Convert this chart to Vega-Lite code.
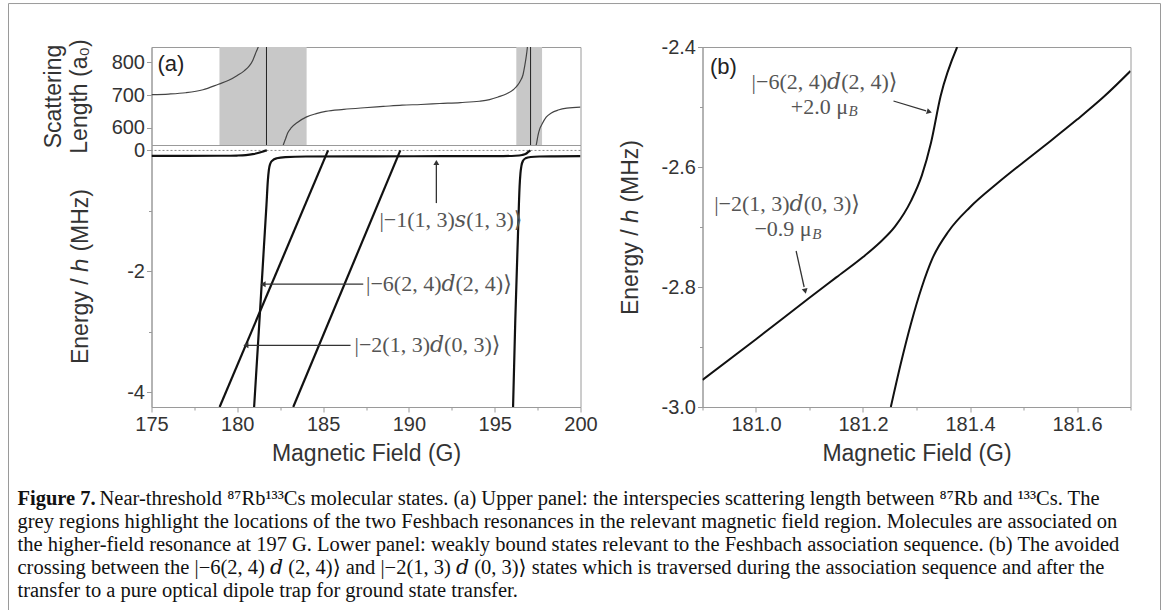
{
  "$schema": "https://vega.github.io/schema/vega-lite/v6.json",
  "background": "white",
  "padding": {"left": 7.5, "top": 3, "right": 5, "bottom": 0},
  "config": {
    "view": {"stroke": "#9a9a9a", "strokeWidth": 1},
    "font": "Liberation Sans",
    "axis": {
      "grid": false,
      "domainColor": "#9a9a9a",
      "tickColor": "#9a9a9a",
      "labelFont": "Liberation Sans",
      "labelFontSize": 20,
      "labelColor": "#333333",
      "titleFont": "Liberation Sans",
      "titleFontSize": 23,
      "titleFontWeight": "normal",
      "titleColor": "#333333",
      "labelFlush": false,
      "labelOverlap": false,
      "labelPadding": 2
    }
  },
  "datasets": {
    "scat": [
      {"seg": "s1", "B": 175, "a": 701}, {"seg": "s1", "B": 176, "a": 703}, {"seg": "s1", "B": 177, "a": 707},
      {"seg": "s1", "B": 178, "a": 716}, {"seg": "s1", "B": 178.9, "a": 733}, {"seg": "s1", "B": 179.5, "a": 745},
      {"seg": "s1", "B": 180.0, "a": 760}, {"seg": "s1", "B": 180.4, "a": 774}, {"seg": "s1", "B": 180.7, "a": 789},
      {"seg": "s1", "B": 180.9, "a": 806}, {"seg": "s1", "B": 181.1, "a": 832}, {"seg": "s1", "B": 181.25, "a": 852},
      {"seg": "s1", "B": 181.35, "a": 875},
      {"seg": "s2", "B": 182.62, "a": 538}, {"seg": "s2", "B": 182.7, "a": 550}, {"seg": "s2", "B": 182.82, "a": 567},
      {"seg": "s2", "B": 182.95, "a": 585}, {"seg": "s2", "B": 183.15, "a": 600}, {"seg": "s2", "B": 183.5, "a": 616},
      {"seg": "s2", "B": 184.04, "a": 633}, {"seg": "s2", "B": 184.6, "a": 643}, {"seg": "s2", "B": 185.15, "a": 650},
      {"seg": "s2", "B": 186.2, "a": 656}, {"seg": "s2", "B": 187.4, "a": 661}, {"seg": "s2", "B": 188.5, "a": 665},
      {"seg": "s2", "B": 189.6, "a": 669}, {"seg": "s2", "B": 190.7, "a": 671}, {"seg": "s2", "B": 191.8, "a": 674},
      {"seg": "s2", "B": 193.0, "a": 677}, {"seg": "s2", "B": 194.1, "a": 681}, {"seg": "s2", "B": 194.7, "a": 686},
      {"seg": "s2", "B": 195.2, "a": 694}, {"seg": "s2", "B": 195.7, "a": 704}, {"seg": "s2", "B": 196.1, "a": 717},
      {"seg": "s2", "B": 196.35, "a": 731}, {"seg": "s2", "B": 196.5, "a": 744}, {"seg": "s2", "B": 196.65, "a": 762},
      {"seg": "s2", "B": 196.75, "a": 789}, {"seg": "s2", "B": 196.83, "a": 815}, {"seg": "s2", "B": 196.9, "a": 844},
      {"seg": "s2", "B": 196.96, "a": 880},
      {"seg": "s3", "B": 197.35, "a": 535}, {"seg": "s3", "B": 197.42, "a": 547}, {"seg": "s3", "B": 197.53, "a": 578},
      {"seg": "s3", "B": 197.63, "a": 597}, {"seg": "s3", "B": 197.76, "a": 611}, {"seg": "s3", "B": 198.0, "a": 632},
      {"seg": "s3", "B": 198.3, "a": 645}, {"seg": "s3", "B": 198.7, "a": 654}, {"seg": "s3", "B": 199.2, "a": 660},
      {"seg": "s3", "B": 200, "a": 663}
    ],
    "shade": [{"x0": 178.96, "x1": 184.04}, {"x0": 196.26, "x1": 197.76}],
    "poles": [{"B": 181.7}, {"B": 197.09}],
    "states": [
      {"s": "L1", "B": 175, "E": -0.09}, {"s": "L1", "B": 177, "E": -0.09}, {"s": "L1", "B": 179, "E": -0.088},
      {"s": "L1", "B": 180, "E": -0.084}, {"s": "L1", "B": 180.5, "E": -0.077}, {"s": "L1", "B": 180.9, "E": -0.062},
      {"s": "L1", "B": 181.2, "E": -0.043}, {"s": "L1", "B": 181.45, "E": -0.022}, {"s": "L1", "B": 181.6, "E": -0.008},
      {"s": "L1", "B": 181.72, "E": 0},
      {"s": "S1", "B": 180.98, "E": -4.24}, {"s": "S1", "B": 181.25, "E": -3.0}, {"s": "S1", "B": 181.38, "E": -2.4},
      {"s": "S1", "B": 181.55, "E": -1.6}, {"s": "S1", "B": 181.7, "E": -0.9}, {"s": "S1", "B": 181.78, "E": -0.5},
      {"s": "S1", "B": 181.84, "E": -0.32}, {"s": "S1", "B": 181.92, "E": -0.22}, {"s": "S1", "B": 182.05, "E": -0.165},
      {"s": "S1", "B": 182.3, "E": -0.13}, {"s": "S1", "B": 182.8, "E": -0.11}, {"s": "S1", "B": 184, "E": -0.1},
      {"s": "S1", "B": 188, "E": -0.097}, {"s": "S1", "B": 192, "E": -0.095}, {"s": "S1", "B": 195.5, "E": -0.093},
      {"s": "S1", "B": 196.2, "E": -0.088}, {"s": "S1", "B": 196.6, "E": -0.075}, {"s": "S1", "B": 196.85, "E": -0.05},
      {"s": "S1", "B": 196.98, "E": -0.02}, {"s": "S1", "B": 197.08, "E": 0},
      {"s": "S2", "B": 196.07, "E": -4.24}, {"s": "S2", "B": 196.2, "E": -2.8}, {"s": "S2", "B": 196.35, "E": -1.45},
      {"s": "S2", "B": 196.45, "E": -0.6}, {"s": "S2", "B": 196.5, "E": -0.38}, {"s": "S2", "B": 196.56, "E": -0.25},
      {"s": "S2", "B": 196.65, "E": -0.17}, {"s": "S2", "B": 196.8, "E": -0.13}, {"s": "S2", "B": 197.1, "E": -0.108},
      {"s": "S2", "B": 197.6, "E": -0.1}, {"s": "S2", "B": 198.5, "E": -0.097}, {"s": "S2", "B": 200, "E": -0.095},
      {"s": "D1", "B": 178.97, "E": -4.24}, {"s": "D1", "B": 185.29, "E": 0},
      {"s": "D2", "B": 183.26, "E": -4.24}, {"s": "D2", "B": 189.5, "E": 0}
    ],
    "arrowsA": [
      {"x1": 191.6, "y1": -0.87, "x2": 191.6, "y2": -0.24},
      {"x1": 187.34, "y1": -2.21, "x2": 181.62, "y2": -2.21},
      {"x1": 186.6, "y1": -3.22, "x2": 180.62, "y2": -3.22}
    ],
    "headsA": [
      {"x": 191.6, "y": -0.2, "shape": "triangle-up"},
      {"x": 181.5, "y": -2.21, "shape": "triangle-left"},
      {"x": 180.5, "y": -3.22, "shape": "triangle-left"}
    ],
    "labsA": [
      {"x": 188.28, "y": -1.15, "t": "|−1(1, 3)𝑠(1, 3)⟩"},
      {"x": 187.5, "y": -2.21, "t": "|−6(2, 4)𝑑(2, 4)⟩"},
      {"x": 186.83, "y": -3.22, "t": "|−2(1, 3)𝑑(0, 3)⟩"}
    ],
    "bcurves": [
      {"s": "b1", "B": 180.9, "E": -2.955}, {"s": "b1", "B": 181.0, "E": -2.887}, {"s": "b1", "B": 181.1, "E": -2.818},
      {"s": "b1", "B": 181.15, "E": -2.784}, {"s": "b1", "B": 181.2, "E": -2.75}, {"s": "b1", "B": 181.23, "E": -2.727},
      {"s": "b1", "B": 181.26, "E": -2.699}, {"s": "b1", "B": 181.29, "E": -2.656}, {"s": "b1", "B": 181.31, "E": -2.614},
      {"s": "b1", "B": 181.327, "E": -2.56}, {"s": "b1", "B": 181.345, "E": -2.482}, {"s": "b1", "B": 181.376, "E": -2.4},
      {"s": "b2", "B": 181.252, "E": -3.0}, {"s": "b2", "B": 181.27, "E": -2.93}, {"s": "b2", "B": 181.29, "E": -2.86},
      {"s": "b2", "B": 181.31, "E": -2.8}, {"s": "b2", "B": 181.33, "E": -2.752}, {"s": "b2", "B": 181.36, "E": -2.707},
      {"s": "b2", "B": 181.4, "E": -2.667}, {"s": "b2", "B": 181.45, "E": -2.628}, {"s": "b2", "B": 181.5, "E": -2.592},
      {"s": "b2", "B": 181.55, "E": -2.557}, {"s": "b2", "B": 181.6, "E": -2.521}, {"s": "b2", "B": 181.65, "E": -2.483},
      {"s": "b2", "B": 181.7, "E": -2.44}
    ],
    "arrowsB": [
      {"x1": 181.257, "y1": -2.49, "x2": 181.318, "y2": -2.5065},
      {"x1": 181.075, "y1": -2.74, "x2": 181.09, "y2": -2.8}
    ],
    "headsB": [
      {"x": 181.324, "y": -2.508, "shape": "triangle-right", "ang": 17},
      {"x": 181.092, "y": -2.807, "shape": "triangle-right", "ang": 77}
    ],
    "labsBc": [
      {"x": 181.128, "y": -2.458, "t": "|−6(2, 4)𝑑(2, 4)⟩"},
      {"x": 181.058, "y": -2.662, "t": "|−2(1, 3)𝑑(0, 3)⟩"}
    ],
    "labsBmu": [
      {"x": 181.172, "y": -2.5, "t": "+2.0 μ"},
      {"x": 181.104, "y": -2.704, "t": "−0.9 μ"}
    ],
    "labsBsub": [
      {"x": 181.173, "y": -2.507, "t": "B"},
      {"x": 181.105, "y": -2.711, "t": "B"}
    ],
    "capNorm": [
      {"line": 1, "x": -52, "t": "Near-threshold ⁸⁷Rb¹³³Cs molecular states. (a) Upper panel: the interspecies scattering length between ⁸⁷Rb and ¹³³Cs. The"},
      {"line": 2, "x": -134, "t": "grey regions highlight the locations of the two Feshbach resonances in the relevant magnetic field region. Molecules are associated on"},
      {"line": 3, "x": -134, "t": "the higher-field resonance at 197 G. Lower panel: weakly bound states relevant to the Feshbach association sequence. (b) The avoided"},
      {"line": 4, "x": -134, "t": "crossing between the |−6(2, 4) 𝑑 (2, 4)⟩ and |−2(1, 3) 𝑑 (0, 3)⟩ states which is traversed during the association sequence and after the"},
      {"line": 5, "x": -134, "t": "transfer to a pure optical dipole trap for ground state transfer."}
    ],
    "capBold": [{"line": 1, "x": -134, "t": "Figure 7."}],
    "frame": [{"x0": -143, "x1": 1009, "y0": -20.52, "y1": 5.96}]
  },
  "vconcat": [
    {
      "hconcat": [
        {
          "vconcat": [
            {
              "width": 429,
              "height": 98,
              "layer": [
                {
                  "data": {"name": "shade"},
                  "mark": {"type": "rect", "color": "#c8c8c8"},
                  "encoding": {
                    "x": {"field": "x0", "type": "quantitative", "scale": {"domain": [175, 200], "nice": false, "zero": false}, "axis": null},
                    "x2": {"field": "x1"}
                  }
                },
                {
                  "data": {"name": "poles"},
                  "mark": {"type": "rule", "color": "#222222", "strokeWidth": 1},
                  "encoding": {"x": {"field": "B", "type": "quantitative"}}
                },
                {
                  "data": {"name": "scat"},
                  "mark": {"type": "line", "color": "#444444", "strokeWidth": 1.2, "clip": true, "interpolate": "monotone"},
                  "encoding": {
                    "x": {"field": "B", "type": "quantitative"},
                    "y": {
                      "field": "a", "type": "quantitative",
                      "scale": {"domain": [547, 847], "nice": false, "zero": false},
                      "axis": {
                        "values": [600, 650, 700, 750, 800],
                        "labelExpr": "datum.value % 100 == 0 ? datum.label : ''",
                        "tickSize": {"condition": {"test": "datum.value % 100 == 0", "value": 5}, "value": 3},
                        "title": ["Scattering", "Length (a₀)"],
                        "titleLineHeight": 26,
                        "titlePadding": 20
                      }
                    },
                    "detail": {"field": "seg"}
                  }
                },
                {
                  "data": {"values": [{"B": 175.35, "a": 795, "t": "(a)"}]},
                  "mark": {"type": "text", "align": "left", "baseline": "middle", "fontSize": 22, "font": "Liberation Sans", "color": "#222222"},
                  "encoding": {
                    "x": {"field": "B", "type": "quantitative"},
                    "y": {"field": "a", "type": "quantitative"},
                    "text": {"field": "t"}
                  }
                }
              ]
            },
            {
              "width": 429,
              "height": 262,
              "layer": [
                {
                  "data": {"values": [{"z": 0}]},
                  "mark": {"type": "rule", "color": "#888888", "strokeDash": [2, 2], "strokeWidth": 1},
                  "encoding": {
                    "y": {"field": "z", "type": "quantitative", "scale": {"domain": [-4.24, 0.09], "nice": false, "zero": false}}
                  }
                },
                {
                  "data": {"name": "states"},
                  "mark": {"type": "line", "color": "#111111", "strokeWidth": 2.2, "clip": true, "interpolate": "monotone"},
                  "encoding": {
                    "x": {
                      "field": "B", "type": "quantitative",
                      "scale": {"domain": [175, 200], "nice": false, "zero": false},
                      "axis": {
                        "values": [175, 177.5, 180, 182.5, 185, 187.5, 190, 192.5, 195, 197.5, 200],
                        "labelExpr": "datum.value % 5 == 0 ? datum.label : ''",
                        "tickSize": {"condition": {"test": "datum.value % 5 == 0", "value": 5}, "value": 3},
                        "title": "Magnetic Field (G)",
                        "titlePadding": 8
                      }
                    },
                    "y": {
                      "field": "E", "type": "quantitative",
                      "axis": {
                        "values": [0, -1, -2, -3, -4],
                        "labelExpr": "datum.value % 2 == 0 ? (datum.value == 0 ? '0' : '-' + abs(datum.value)) : ''",
                        "tickSize": {"condition": {"test": "datum.value % 2 == 0", "value": 5}, "value": 3},
                        "title": "Energy / ℎ (MHz)",
                        "titlePadding": 34
                      }
                    },
                    "detail": {"field": "s"}
                  }
                },
                {
                  "data": {"name": "arrowsA"},
                  "mark": {"type": "rule", "color": "#333333", "strokeWidth": 1.3},
                  "encoding": {
                    "x": {"field": "x1", "type": "quantitative"},
                    "x2": {"field": "x2"},
                    "y": {"field": "y1", "type": "quantitative"},
                    "y2": {"field": "y2"}
                  }
                },
                {
                  "data": {"name": "headsA"},
                  "mark": {"type": "point", "filled": true, "opacity": 1, "color": "#333333", "size": 35},
                  "encoding": {
                    "x": {"field": "x", "type": "quantitative"},
                    "y": {"field": "y", "type": "quantitative"},
                    "shape": {"field": "shape", "type": "nominal", "scale": null}
                  }
                },
                {
                  "data": {"name": "labsA"},
                  "mark": {"type": "text", "align": "left", "baseline": "middle", "fontSize": 22, "font": "Liberation Serif, DejaVu Serif", "color": "#555555"},
                  "encoding": {
                    "x": {"field": "x", "type": "quantitative"},
                    "y": {"field": "y", "type": "quantitative"},
                    "text": {"field": "t"}
                  }
                }
              ]
            }
          ],
          "spacing": 0,
          "bounds": "flush"
        },
        {
          "width": 428,
          "height": 360,
          "layer": [
            {
              "data": {"name": "bcurves"},
              "mark": {"type": "line", "color": "#111111", "strokeWidth": 2, "clip": true, "interpolate": "monotone"},
              "encoding": {
                "x": {
                  "field": "B", "type": "quantitative",
                  "scale": {"domain": [180.9, 181.7], "nice": false, "zero": false},
                  "axis": {
                    "values": [180.9, 181.0, 181.1, 181.2, 181.3, 181.4, 181.5, 181.6, 181.7],
                    "labelExpr": "abs(round(datum.value * 10)) % 2 == 0 ? format(datum.value, '.1f') : ''",
                    "tickSize": {"condition": {"test": "abs(round(datum.value * 10)) % 2 == 0", "value": 5}, "value": 3},
                    "title": "Magnetic Field (G)",
                    "titlePadding": 8
                  }
                },
                "y": {
                  "field": "E", "type": "quantitative",
                  "scale": {"domain": [-3.0, -2.4], "nice": false, "zero": false},
                  "axis": {
                    "values": [-3.0, -2.9, -2.8, -2.7, -2.6, -2.5, -2.4],
                    "labelExpr": "abs(round(datum.value * 10)) % 2 == 0 ? '-' + format(abs(datum.value), '.1f') : ''",
                    "tickSize": {"condition": {"test": "abs(round(datum.value * 10)) % 2 == 0", "value": 5}, "value": 3},
                    "title": "Energy / ℎ (MHz)",
                    "titlePadding": 19
                  }
                },
                "detail": {"field": "s"}
              }
            },
            {
              "data": {"name": "arrowsB"},
              "mark": {"type": "rule", "color": "#333333", "strokeWidth": 1.3},
              "encoding": {
                "x": {"field": "x1", "type": "quantitative"},
                "x2": {"field": "x2"},
                "y": {"field": "y1", "type": "quantitative"},
                "y2": {"field": "y2"}
              }
            },
            {
              "data": {"name": "headsB"},
              "mark": {"type": "point", "filled": true, "opacity": 1, "color": "#333333", "size": 35},
              "encoding": {
                "x": {"field": "x", "type": "quantitative"},
                "y": {"field": "y", "type": "quantitative"},
                "shape": {"field": "shape", "type": "nominal", "scale": null},
                "angle": {"field": "ang", "type": "quantitative", "scale": null}
              }
            },
            {
              "data": {"name": "labsBc"},
              "mark": {"type": "text", "align": "center", "baseline": "middle", "fontSize": 22, "font": "Liberation Serif, DejaVu Serif", "color": "#555555"},
              "encoding": {
                "x": {"field": "x", "type": "quantitative"},
                "y": {"field": "y", "type": "quantitative"},
                "text": {"field": "t"}
              }
            },
            {
              "data": {"name": "labsBmu"},
              "mark": {"type": "text", "align": "right", "baseline": "middle", "fontSize": 22, "font": "Liberation Serif", "color": "#555555"},
              "encoding": {
                "x": {"field": "x", "type": "quantitative"},
                "y": {"field": "y", "type": "quantitative"},
                "text": {"field": "t"}
              }
            },
            {
              "data": {"name": "labsBsub"},
              "mark": {"type": "text", "align": "left", "baseline": "middle", "fontSize": 15, "font": "Liberation Serif", "fontStyle": "italic", "color": "#555555"},
              "encoding": {
                "x": {"field": "x", "type": "quantitative"},
                "y": {"field": "y", "type": "quantitative"},
                "text": {"field": "t"}
              }
            },
            {
              "data": {"values": [{"x": 180.914, "y": -2.434, "t": "(b)"}]},
              "mark": {"type": "text", "align": "left", "baseline": "middle", "fontSize": 22, "font": "Liberation Sans", "color": "#222222"},
              "encoding": {
                "x": {"field": "x", "type": "quantitative"},
                "y": {"field": "y", "type": "quantitative"},
                "text": {"field": "t"}
              }
            }
          ]
        }
      ],
      "spacing": 20
    },
    {
      "width": 979,
      "height": 115,
      "view": {"stroke": null},
      "layer": [
        {
          "data": {"name": "frame"},
          "mark": {"type": "rect", "fill": null, "fillOpacity": 0, "stroke": "#9a9a9a", "strokeWidth": 1},
          "encoding": {
            "x": {"field": "x0", "type": "quantitative", "scale": {"domain": [0, 979], "nice": false, "zero": false}, "axis": null},
            "x2": {"field": "x1"},
            "y": {"field": "y0", "type": "quantitative", "scale": {"domain": [5.5, 0.5], "nice": false, "zero": false}, "axis": null},
            "y2": {"field": "y1"}
          }
        },
        {
          "data": {"name": "capBold"},
          "mark": {"type": "text", "align": "left", "baseline": "middle", "fontSize": 20.5, "font": "Liberation Serif", "fontWeight": "bold", "color": "#111111"},
          "encoding": {
            "x": {"field": "x", "type": "quantitative"},
            "y": {"field": "line", "type": "quantitative"},
            "text": {"field": "t"}
          }
        },
        {
          "data": {"name": "capNorm"},
          "mark": {"type": "text", "align": "left", "baseline": "middle", "fontSize": 20.5, "font": "Liberation Serif, DejaVu Serif", "color": "#111111"},
          "encoding": {
            "x": {"field": "x", "type": "quantitative"},
            "y": {"field": "line", "type": "quantitative"},
            "text": {"field": "t"}
          }
        }
      ]
    }
  ],
  "spacing": -463
}
